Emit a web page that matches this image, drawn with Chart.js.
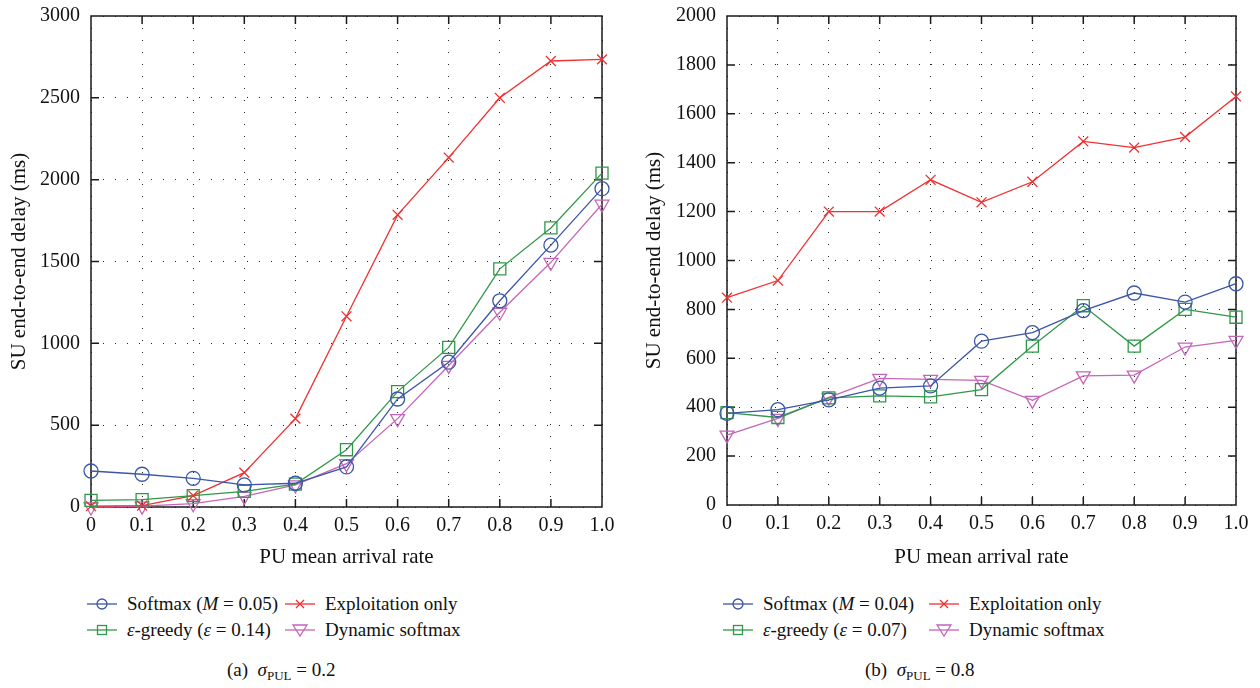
<!DOCTYPE html>
<html><head><meta charset="utf-8">
<script src="https://cdn.jsdelivr.net/npm/chart.js@4"></script>
<style>
body{margin:0;width:1260px;height:688px;background:#fff;position:relative;overflow:hidden;font-family:"Liberation Serif","DejaVu Serif",serif;color:#111}
.cw{position:absolute;top:-7px;width:630px;height:587px}
.item{position:absolute;height:26px;display:flex;align-items:center;font-size:19px;white-space:nowrap}
.item svg{margin-right:10px}
.cap{position:absolute;font-size:19px;white-space:nowrap;line-height:24px}
.cap sub{font-size:13px;vertical-align:-4px;line-height:0}
</style></head>
<body>
<div class="cw" style="left:0"><canvas id="ca" width="630" height="587"></canvas></div>
<div class="cw" style="left:630px"><canvas id="cb" width="630" height="587"></canvas></div>
<div id="legends"></div>
<script>
// ---- data ----
const xValues = [0, 0.1, 0.2, 0.3, 0.4, 0.5, 0.6, 0.7, 0.8, 0.9, 1.0];
const xTickLabels = ['0','0.1','0.2','0.3','0.4','0.5','0.6','0.7','0.8','0.9','1.0'];
const seriesNames = ['Softmax', 'ε-greedy', 'Exploitation only', 'Dynamic softmax'];

// (a) sigma_PUL = 0.2
const aSoftmax = [220, 200, 175, 135, 145, 245, 660, 885, 1260, 1600, 1945];
const aGreedy  = [40, 45, 70, 95, 140, 350, 705, 975, 1455, 1705, 2040];
const aExploit = [5, 8, 70, 210, 540, 1165, 1785, 2135, 2500, 2725, 2735];
const aDynamic = [0, 5, 20, 65, 135, 265, 540, 865, 1190, 1495, 1850];
const aYTicks  = [0, 500, 1000, 1500, 2000, 2500, 3000];
const aLegendLabels = ['Softmax (<i>M</i> = 0.05)', '<i>ε</i>-greedy (<i>ε</i> = 0.14)', 'Exploitation only', 'Dynamic softmax'];
const aCaption = '(a)&nbsp; <i>σ</i><sub>PUL</sub> = 0.2';

// (b) sigma_PUL = 0.8
const bSoftmax = [375, 390, 430, 478, 487, 670, 705, 795, 867, 830, 905];
const bGreedy  = [378, 358, 438, 446, 442, 472, 650, 815, 650, 800, 768];
const bExploit = [848, 918, 1200, 1200, 1330, 1238, 1322, 1487, 1462, 1505, 1671];
const bDynamic = [286, 354, 440, 518, 514, 510, 428, 528, 531, 646, 673];
const bYTicks  = [0, 200, 400, 600, 800, 1000, 1200, 1400, 1600, 1800, 2000];
const bLegendLabels = ['Softmax (<i>M</i> = 0.04)', '<i>ε</i>-greedy (<i>ε</i> = 0.07)', 'Exploitation only', 'Dynamic softmax'];
const bCaption = '(b)&nbsp; <i>σ</i><sub>PUL</sub> = 0.8';

// ---- styles ----
const colors = ['#3b56a8', '#2f9848', '#f03030', '#c466b9'];
const pStyles = ['circle', 'rect', 'crossRot', 'triangle'];
const pRadius = [7, 8.5, 7, 8];
const pRot = [0, 0, 0, 180];
const FONT = '"Liberation Serif","DejaVu Serif",serif';

const framePlugin = {
  id: 'frame',
  beforeDatasetsDraw(chart) {
    const {ctx, chartArea: a, scales} = chart;
    ctx.save();
    ctx.strokeStyle = '#1a1a1a';
    ctx.lineWidth = 1.5;
    ctx.strokeRect(a.left, a.top, a.right - a.left, a.bottom - a.top);
    ctx.beginPath();
    const L = 8;
    scales.x.ticks.forEach(t => {
      const p = scales.x.getPixelForValue(t.value);
      if (p <= a.left + 1 || p >= a.right - 1) return;
      ctx.moveTo(p, a.bottom); ctx.lineTo(p, a.bottom - L);
      ctx.moveTo(p, a.top); ctx.lineTo(p, a.top + L);
    });
    scales.y.ticks.forEach(t => {
      const p = scales.y.getPixelForValue(t.value);
      if (p <= a.top + 1 || p >= a.bottom - 1) return;
      ctx.moveTo(a.left, p); ctx.lineTo(a.left + L, p);
      ctx.moveTo(a.right, p); ctx.lineTo(a.right - L, p);
    });
    ctx.stroke();
    ctx.restore();
  }
};

function makeChart(id, series, yTicks, yMax, yWidth, padRight, xHeight, yTitlePad, padTop) {
  const datasets = series.map((vals, i) => ({
    label: seriesNames[i],
    data: xValues.map((x, k) => ({x: x, y: vals[k]})),
    borderColor: colors[i],
    backgroundColor: 'rgba(0,0,0,0)',
    pointBackgroundColor: 'rgba(0,0,0,0)',
    pointBorderColor: colors[i],
    pointStyle: pStyles[i],
    pointRadius: pRadius[i],
    pointRotation: pRot[i],
    pointBorderWidth: 1.3,
    borderWidth: 1.3,
    tension: 0,
    clip: false
  }));
  return new Chart(document.getElementById(id), {
    type: 'line',
    data: {datasets},
    plugins: [framePlugin],
    options: {
      responsive: false,
      animation: false,
      events: [],
      layout: {padding: {left: 0, top: padTop, right: padRight, bottom: 0}},
      plugins: {legend: {display: false}, tooltip: {enabled: false}},
      scales: {
        x: {
          type: 'linear', min: 0, max: 1,
          afterBuildTicks: s => { s.ticks = xValues.map(v => ({value: v})); },
          afterFit: s => { s.height = xHeight; },
          border: {display: false, dash: [1, 11]},
          grid: {color: '#222', lineWidth: 1, drawTicks: false},
          ticks: {
            padding: 7, color: '#111', font: {family: FONT, size: 20},
            maxRotation: 0, autoSkip: false,
            callback: (v, i) => xTickLabels[i]
          },
          title: {display: true, text: 'PU mean arrival rate', color: '#111',
                  font: {family: FONT, size: 21}, padding: {top: 0, bottom: 10}}
        },
        y: {
          type: 'linear', min: 0, max: yMax,
          afterBuildTicks: s => { s.ticks = yTicks.map(v => ({value: v})); },
          afterFit: s => { s.width = yWidth; },
          border: {display: false, dash: [1, 11]},
          grid: {color: '#222', lineWidth: 1, drawTicks: false},
          ticks: {padding: 11, color: '#111', font: {family: FONT, size: 20}, autoSkip: false,
                  callback: v => String(v)},
          title: {display: true, text: 'SU end-to-end delay (ms)', color: '#111',
                  font: {family: FONT, size: 21}, padding: {top: yTitlePad, bottom: 0}}
        }
      }
    }
  });
}

const chA = makeChart('ca', [aSoftmax, aGreedy, aExploit, aDynamic], aYTicks, 3000, 91, 28, 73, 7, 8);
const chB = makeChart('cb', [bSoftmax, bGreedy, bExploit, bDynamic], bYTicks, 2000, 97, 24, 75, 12, 8);

// ---- legends (HTML) ----
function markerSvg(i) {
  const c = colors[i];
  let m = '';
  if (i === 0) m = `<circle cx="15" cy="10" r="5" fill="none" stroke="${c}" stroke-width="1.3"/>`;
  if (i === 1) m = `<rect x="10.5" y="5.5" width="9" height="9" fill="none" stroke="${c}" stroke-width="1.3"/>`;
  if (i === 2) m = `<path d="M11 6 L19 14 M19 6 L11 14" stroke="${c}" stroke-width="1.3"/>`;
  if (i === 3) m = `<path d="M8 5 L22 5 L15 16 Z" fill="none" stroke="${c}" stroke-width="1.3"/>`;
  return `<svg width="30" height="20" viewBox="0 0 30 20"><line x1="0" y1="10" x2="30" y2="10" stroke="${c}" stroke-width="1.3"/>${m}</svg>`;
}
function legend(labels, cols, rowsY, caption, capX) {
  const host = document.getElementById('legends');
  const order = [[0, 0, 0], [2, 1, 0], [1, 0, 1], [3, 1, 1]];
  order.forEach(([si, col, row]) => {
    const d = document.createElement('div');
    d.className = 'item';
    d.style.left = cols[col] + 'px';
    d.style.top = (rowsY[row] - 13) + 'px';
    d.innerHTML = markerSvg(si) + '<span>' + labels[si] + '</span>';
    host.appendChild(d);
  });
  const c = document.createElement('div');
  c.className = 'cap';
  c.style.left = capX + 'px';
  c.style.top = '658px';
  c.innerHTML = caption;
  host.appendChild(c);
}
legend(aLegendLabels, [87, 285], [604, 630], aCaption, 227);
legend(bLegendLabels, [723, 929], [604, 630], bCaption, 865);
</script>
</body></html>
